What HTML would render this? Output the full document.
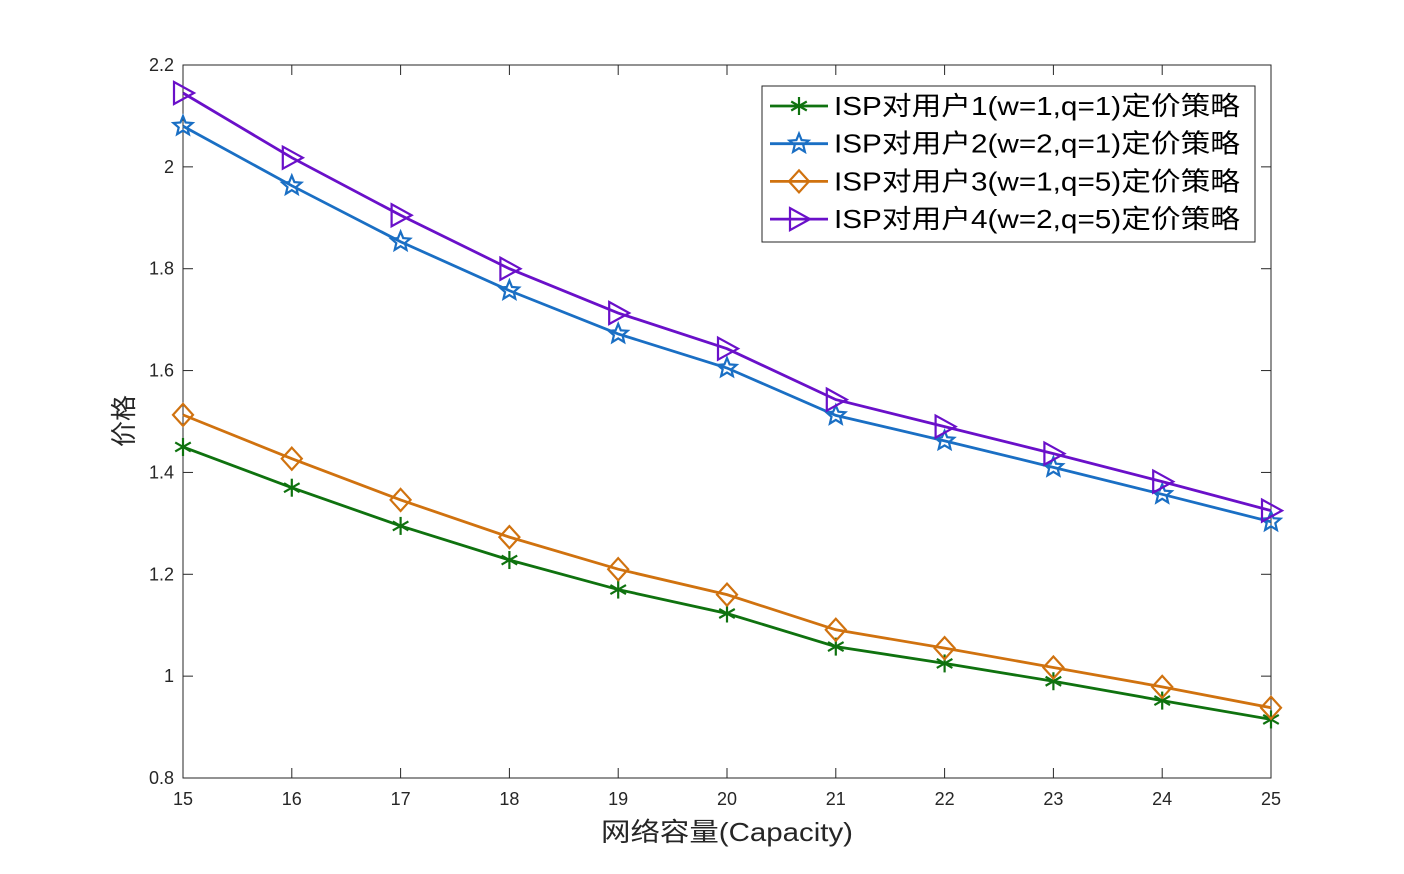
<!DOCTYPE html>
<html><head><meta charset="utf-8"><style>
body{margin:0;background:#fff}
svg{display:block;font-family:"Liberation Sans","Noto Sans CJK SC",sans-serif}
</style></head><body>
<svg id="chart" width="1404" height="874" xmlns="http://www.w3.org/2000/svg"></svg>
<script>
const categories=[15,16,17,18,19,20,21,22,23,24,25];
const yTicks=[0.8,1,1.2,1.4,1.6,1.8,2,2.2];
const yTickLabels=["0.8","1","1.2","1.4","1.6","1.8","2","2.2"];
const s1=[1.45,1.37,1.295,1.228,1.17,1.123,1.058,1.025,0.99,0.952,0.915];
const s2=[2.08,1.963,1.853,1.757,1.672,1.605,1.512,1.462,1.41,1.357,1.303];
const s3=[1.513,1.427,1.346,1.273,1.21,1.16,1.091,1.055,1.017,0.979,0.938];
const s4=[2.145,2.018,1.905,1.8,1.713,1.643,1.543,1.49,1.437,1.382,1.325];
const names=["ISP对用户1(w=1,q=1)定价策略","ISP对用户2(w=2,q=1)定价策略","ISP对用户3(w=1,q=5)定价策略","ISP对用户4(w=2,q=5)定价策略"];
const L=183,R=1271,T=65,B=778;
const X=v=>L+(v-15)/10*(R-L);
const Y=v=>B-(v-0.8)/1.4*(B-T);
const svg=document.getElementById('chart');
const NS='http://www.w3.org/2000/svg';
function mk(tag,attrs,parent){const e=document.createElementNS(NS,tag);for(const k in attrs)e.setAttribute(k,attrs[k]);(parent||svg).appendChild(e);return e;}
const axes=mk('g',{});


mk('rect',{x:L,y:T,width:R-L,height:B-T,fill:'#fff',stroke:'#262626','stroke-width':1},axes);
categories.forEach(c=>{
  const x=X(c);
  mk('line',{x1:x,x2:x,y1:B,y2:B-10,stroke:'#262626'},axes);
  mk('line',{x1:x,x2:x,y1:T,y2:T+10,stroke:'#262626'},axes);
  const t=mk('text',{x:x,y:B+27,'text-anchor':'middle','font-size':18,fill:'#262626'},axes);
  t.textContent=c;
  
  
});
yTicks.forEach((v,i)=>{
  const y=Y(v);
  mk('line',{x1:L,x2:L+10,y1:y,y2:y,stroke:'#262626'},axes);
  mk('line',{x1:R,x2:R-10,y1:y,y2:y,stroke:'#262626'},axes);
  const t=mk('text',{x:L-9,y:y+6,'text-anchor':'end','font-size':18,fill:'#262626'},axes);
  t.textContent=yTickLabels[i];
  
  
});
const xt=mk('text',{x:601,y:841,'font-size':26,fill:'#262626',textLength:252,lengthAdjust:'spacingAndGlyphs'});
xt.textContent='网络容量(Capacity)';


const yt=mk('text',{x:0,y:0,'text-anchor':'middle','font-size':26,fill:'#262626',transform:'translate(133,421) rotate(-90)'});
yt.textContent='价格';



function marker(type,x,y,color,g){
  if(type==='star6'){
    for(let a=0;a<3;a++){const ang=a*Math.PI/3+Math.PI/2;const dx=9*Math.cos(ang),dy=9*Math.sin(ang);
      mk('line',{x1:x-dx,y1:y-dy,x2:x+dx,y2:y+dy,stroke:color,'stroke-width':2.2},g);}
  }else if(type==='pent'){
    let p=[];for(let i=0;i<10;i++){const r=i%2?4.5:10;const a=-Math.PI/2+i*Math.PI/5;p.push((x+r*Math.cos(a)).toFixed(1)+','+(y+r*Math.sin(a)).toFixed(1));}
    mk('polygon',{points:p.join(' '),fill:'none',stroke:color,'stroke-width':2.2},g);
  }else if(type==='diamond'){
    mk('polygon',{points:`${x},${y-11} ${x+10},${y} ${x},${y+11} ${x-10},${y}`,fill:'none',stroke:color,'stroke-width':2.2},g);
  }else{
    mk('polygon',{points:`${x-9},${y-11} ${x+11},${y} ${x-9},${y+11}`,fill:'none',stroke:color,'stroke-width':2.2},g);
  }
}
const series=[[s1,'#0f720f','star6'],[s2,'#1a6fc4','pent'],[s3,'#d0720f','diamond'],[s4,'#6a10c9','tri']];
series.forEach((s,i)=>{
  const g=mk('g',{});
  
  
  mk('polyline',{points:s[0].map((v,j)=>X(categories[j])+','+Y(v)).join(' '),fill:'none',stroke:s[1],'stroke-width':2.8},g);
  s[0].forEach((v,j)=>marker(s[2],X(categories[j]),Y(v),s[1],g));
});
const lg=mk('g',{});


mk('rect',{x:762,y:86,width:493,height:156,fill:'#fff',stroke:'#262626','stroke-width':1},lg);
series.forEach((s,i)=>{
  const y=106+i*37.7;
  const e=mk('g',{},lg);
  
  
  mk('line',{x1:770,x2:828,y1:y,y2:y,stroke:s[1],'stroke-width':2.8},e);
  marker(s[2],799,y,s[1],e);
  const t=mk('text',{x:834,y:y+9,'font-size':26,fill:'#000',textLength:406,lengthAdjust:'spacingAndGlyphs'},e);
  t.textContent=names[i];
});
</script>
</body></html>
